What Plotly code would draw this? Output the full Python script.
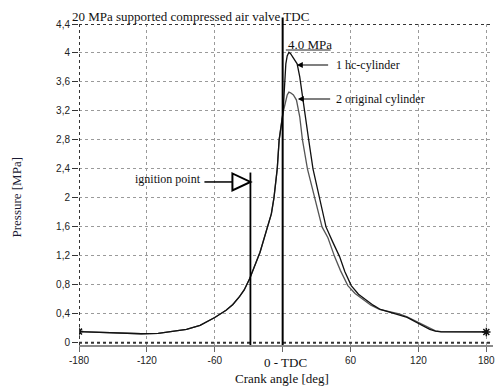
import plotly.graph_objects as go

# ---- data ----
common_angle = [-180, -170, -160, -150, -140, -125, -110, -96, -85, -73, -60, -50, -44, -38, -34,
                -29, -26, -22, -20, -16, -12, -10, -7.7, -4.8, -3.1]
common_p = [0.155, 0.148, 0.14, 0.135, 0.13, 0.125, 0.13, 0.155, 0.185, 0.24, 0.35, 0.45, 0.53, 0.64, 0.73,
            0.89, 1.0, 1.17, 1.25, 1.45, 1.65, 1.78, 2.0, 2.4, 2.8]

hc_angle = [-1.5, -0.3, 0.6, 1.1, 1.9, 2.8, 4.0, 5.5, 7.0, 9.3, 12.8, 15.1, 17.5, 19.5, 21.9, 23.0,
            26.8, 32.7, 38.3, 44.0, 50.3, 55.0, 60.6, 67.0, 73.8, 80.0, 86.4, 95, 103, 110, 115, 120,
            125, 130, 135, 140, 150, 160, 170, 180]
hc_p = [2.95, 3.10, 3.25, 3.39, 3.62, 3.85, 3.96, 4.01, 3.99, 3.94, 3.85, 3.67, 3.39, 3.16, 2.93, 2.80,
        2.40, 2.00, 1.60, 1.40, 1.19, 0.98, 0.79, 0.67, 0.59, 0.52, 0.46, 0.42, 0.39, 0.35, 0.31, 0.27,
        0.22, 0.185, 0.16, 0.152, 0.15, 0.15, 0.15, 0.15]

orig_angle = [-1.8, -0.5, 1.0, 2.5, 4.0, 5.5, 7.0, 9.5, 12.2, 15.1, 17.5, 21.9, 28.3, 34.8, 40.0,
              45.9, 51.0, 57.6, 64.0, 70.5, 78.0, 85.5, 95, 103, 110, 115, 120, 125, 130, 135, 140,
              150, 160, 170, 180]
orig_p = [2.97, 3.10, 3.22, 3.33, 3.42, 3.46, 3.45, 3.42, 3.35, 3.12, 2.80, 2.40, 2.00, 1.60, 1.45,
          1.19, 1.00, 0.79, 0.68, 0.60, 0.52, 0.46, 0.43, 0.40, 0.36, 0.32, 0.28, 0.235, 0.195, 0.165,
          0.155, 0.15, 0.15, 0.15, 0.15]

x_ticks = [-180, -120, -60, 0, 60, 120, 180]
x_ticktext = ["-180", "-120", "-60", "", "60", "120", "180"]
y_ticks = [0, 0.4, 0.8, 1.2, 1.6, 2.0, 2.4, 2.8, 3.2, 3.6, 4.0, 4.4]
y_ticktext = ["0", "0,4", "0,8", "1,2", "1,6", "2", "2,4", "2,8", "3,2", "3,6", "4", "4,4"]

IGNITION_ANGLE = -28.5
IGNITION_MARK_P = 2.22
IGNITION_TOP_P = 2.35
TDC_ANGLE = 0
PEAK_LABEL = "4.0 MPa"

SERIF = "Liberation Serif"
SANS = "Liberation Sans"

x1 = common_angle + hc_angle
y1 = common_p + hc_p
x2 = common_angle + orig_angle
y2 = common_p + orig_p

fig = go.Figure()
fig.add_trace(go.Scatter(x=x2, y=y2, mode="lines", line=dict(color="#555555", width=1.3),
                         name="2 original cylinder", showlegend=False))
fig.add_trace(go.Scatter(x=x1, y=y1, mode="lines", line=dict(color="#111111", width=1.3),
                         name="1 hc-cylinder", showlegend=False))
fig.add_trace(go.Scatter(x=[x1[0], x1[-1]], y=[y1[0], y1[-1]], mode="markers",
                         marker=dict(symbol="asterisk-open", size=7, color="#111",
                                     line=dict(color="#111", width=1.5)),
                         showlegend=False))

grid = dict(showgrid=True, gridcolor="#9a9a9a", griddash="dot", gridwidth=1)

fig.update_layout(
    width=495, height=388,
    margin=dict(l=79, r=0, t=24, b=43),
    plot_bgcolor="white", paper_bgcolor="white",
    xaxis=dict(range=[-180, 185.9], tickmode="array", tickvals=x_ticks, ticktext=x_ticktext,
               ticks="outside", ticklen=5, tickcolor="#666", tickwidth=1,
               showline=True, linecolor="#8a8a8a", linewidth=2, ticklabeloverflow="allow",
               zeroline=False, tickfont=dict(family=SANS, size=10, color="#222"), **grid),
    yaxis=dict(range=[-0.03, 4.4], tickmode="array", tickvals=y_ticks, ticktext=y_ticktext,
               ticks="outside", ticklen=6, tickcolor="#333", tickwidth=1,
               showline=False, zeroline=False,
               tickfont=dict(family=SANS, size=10, color="#222"), **grid),
)

shapes = []
# borders (dotted dark)
shapes.append(dict(type="line", xref="paper", yref="y", x0=0, x1=1, y0=4.4, y1=4.4,
                   line=dict(color="#333", width=2, dash="dot")))
shapes.append(dict(type="line", xref="paper", yref="y", x0=0, x1=1, y0=0, y1=0,
                   line=dict(color="#333", width=2, dash="dot")))
shapes.append(dict(type="line", xref="x", yref="paper", x0=-180, x1=-180, y0=0, y1=1,
                   line=dict(color="#333", width=2, dash="dot")))
# TDC line
shapes.append(dict(type="line", xref="x", yref="paper", x0=TDC_ANGLE, x1=TDC_ANGLE, y0=0, y1=1.02,
                   line=dict(color="black", width=2)))
# ignition line
shapes.append(dict(type="line", xref="x", yref="y", x0=IGNITION_ANGLE, x1=IGNITION_ANGLE,
                   y0=-0.03, y1=IGNITION_TOP_P, line=dict(color="black", width=1.8)))
# ignition triangle & connector (pixel-sized, anchored on the ignition line)
shapes.append(dict(type="path", xref="x", yref="y", xsizemode="pixel", ysizemode="pixel",
                   xanchor=IGNITION_ANGLE, yanchor=IGNITION_MARK_P,
                   path="M -18,-8.5 L -18,8.5 L 0,0 Z", line=dict(color="black", width=2)))
shapes.append(dict(type="path", xref="x", yref="y", xsizemode="pixel", ysizemode="pixel",
                   xanchor=IGNITION_ANGLE, yanchor=IGNITION_MARK_P,
                   path="M -46,0 L -18,0", line=dict(color="black", width=1.5)))
# underline of peak label
shapes.append(dict(type="line", xref="x", yref="y", x0=2.8, x1=42.4, y0=4.041, y1=4.041,
                   line=dict(color="#222", width=1)))
fig.update_layout(shapes=shapes)

ann = []
ann.append(dict(text="20 MPa supported compressed air valve TDC", xref="paper", yref="paper",
                x=-0.021, y=1.022, xanchor="left", yanchor="middle", showarrow=False,
                font=dict(family=SERIF, size=13, color="#111")))
ann.append(dict(text="Pressure [MPa]", xref="paper", yref="paper", x=-0.151, y=0.461,
                xanchor="center", yanchor="middle", textangle=-90, showarrow=False,
                font=dict(family=SERIF, size=13, color="#1a1a33")))
ann.append(dict(text="Crank angle [deg]", xref="paper", yref="paper", x=0.49, y=-0.103,
                xanchor="center", yanchor="middle", showarrow=False,
                font=dict(family=SERIF, size=13, color="#111")))
ann.append(dict(text="0 - TDC", xref="x", yref="paper", x=TDC_ANGLE, xshift=3, y=-0.053,
                xanchor="center", yanchor="middle", showarrow=False,
                font=dict(family=SERIF, size=13, color="#111")))
ann.append(dict(text=PEAK_LABEL, xref="x", yref="y", x=3.0, y=4.124, xanchor="left",
                yanchor="middle", showarrow=False, font=dict(family=SERIF, size=13, color="#111")))
ann.append(dict(text="ignition point", xref="x", yref="y", x=IGNITION_ANGLE, xshift=-47, y=2.261,
                xanchor="right", yanchor="middle", showarrow=False,
                font=dict(family=SERIF, size=12, color="#111")))
# curve labels with arrows
ann.append(dict(text="1 hc-cylinder", xref="x", yref="y", x=45.5, y=3.834, xanchor="left",
                yanchor="middle", showarrow=False, font=dict(family=SERIF, size=12, color="#111")))
ann.append(dict(text="", xref="x", yref="y", x=12.5, y=3.834, axref="x", ayref="y", ax=41.5, ay=3.834,
                showarrow=True, arrowhead=2, arrowsize=1, arrowwidth=1.2, arrowcolor="black"))
ann.append(dict(text="2 original cylinder", xref="x", yref="y", x=45.5, y=3.365, xanchor="left",
                yanchor="middle", showarrow=False, font=dict(family=SERIF, size=12, color="#111")))
ann.append(dict(text="", xref="x", yref="y", x=13.4, y=3.365, axref="x", ayref="y", ax=43.3, ay=3.365,
                showarrow=True, arrowhead=2, arrowsize=1, arrowwidth=1.2, arrowcolor="black"))
fig.update_layout(annotations=ann)

fig.write_html("out.html")
